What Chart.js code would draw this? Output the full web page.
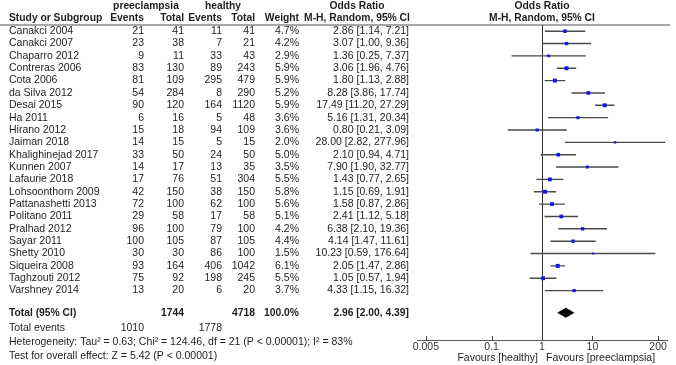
<!DOCTYPE html>
<html><head><meta charset="utf-8">
<script src="https://cdn.jsdelivr.net/npm/chart.js@4.4.1/dist/chart.umd.min.js"></script>
<style>html,body{margin:0;padding:0;background:#fff}#wrap{width:676px;height:365px;position:relative}</style>
</head><body><div id="wrap"><canvas id="c" width="676" height="365"></canvas></div>
<script>
// ---------- data ----------
const studies = ['Canakci 2004','Canakci 2007','Chaparro 2012','Contreras 2006','Cota 2006','da Silva 2012','Desai 2015','Ha 2011','Hirano 2012','Jaiman 2018','Khalighinejad 2017','Kunnen 2007','Lafaurie 2018','Lohsoonthorn 2009','Pattanashetti 2013','Politano 2011','Pralhad 2012','Sayar 2011','Shetty 2010','Siqueira 2008','Taghzouti 2012','Varshney 2014'];
const preEvents = [21,23,9,83,81,54,90,6,15,14,33,14,17,42,72,29,96,100,30,93,75,13];
const preTotal = [41,38,11,130,109,284,120,16,18,15,50,17,76,150,100,58,100,105,30,164,92,20];
const healthyEvents = [11,7,33,89,295,8,164,5,94,5,24,13,51,38,62,17,79,87,86,406,198,6];
const healthyTotal = [41,21,43,243,479,290,1120,48,109,15,50,35,304,150,100,58,100,105,100,1042,245,20];
const weights = [4.7,4.2,2.9,5.9,5.9,5.2,5.9,3.6,3.6,2.0,5.0,3.5,5.5,5.8,5.6,5.1,4.2,4.4,1.5,6.1,5.5,3.7];
const oddsRatio = [2.86,3.07,1.36,3.06,1.80,8.28,17.49,5.16,0.80,28.00,2.10,7.90,1.43,1.15,1.58,2.41,6.38,4.14,10.23,2.05,1.05,4.33];
const ciLower = [1.14,1.00,0.25,1.96,1.13,3.86,11.20,1.31,0.21,2.82,0.94,1.90,0.77,0.69,0.87,1.12,2.10,1.47,0.59,1.47,0.57,1.15];
const ciUpper = [7.21,9.36,7.37,4.76,2.88,17.74,27.29,20.34,3.09,277.96,4.71,32.77,2.65,1.91,2.86,5.18,19.36,11.61,176.64,2.86,1.94,16.32];
const pooledOR = [2.96, 2.00, 4.39];          // estimate, lower, upper
const totalParticipants = [1744, 4718];      // preeclampsia, healthy
const totalEvents = [1010, 1778];
const totalWeight = [100.0];
const axisTicks = [0.005, 0.1, 1, 10, 200];
const groupLabels = ['preeclampsia', 'healthy'];
const favourLabels = ['Favours [healthy]', 'Favours [preeclampsia]'];
const heterogeneityText = 'Heterogeneity: Tau\u00B2 = 0.63; Chi\u00B2 = 124.46, df = 21 (P < 0.00001); I\u00B2 = 83%';
const overallText = 'Test for overall effect: Z = 5.42 (P < 0.00001)';

// ---------- layout (not data) ----------
const REG = '10.5px "Liberation Sans", Arial, sans-serif';
const BOLD = 'bold 10.3px "Liberation Sans", Arial, sans-serif';
const TXT = '#1e1e1e';
const COL = {study:9, preE:144, preT:184, hE:222, hT:255, w:299, or:409, orHead:357};
const ROW = {head1:-2.05, head2:-1.05, total:22.8, events:24.0, het:25.15, test:26.3, favours:26.45};

const fmt = v => v.toFixed(2);

const tablePlugin = {
  id: 'table',
  beforeDatasetsDraw(chart) {
    const {ctx, chartArea, scales:{x, y}} = chart;
    ctx.save();
    // header rule
    ctx.strokeStyle = '#8a8a8a'; ctx.lineWidth = 1.5;
    ctx.beginPath(); ctx.moveTo(0, chartArea.top); ctx.lineTo(670, chartArea.top); ctx.stroke();
    // line of no effect
    const x1 = Math.round(x.getPixelForValue(1)) + 0.5;
    ctx.strokeStyle = '#333'; ctx.lineWidth = 1;
    ctx.beginPath(); ctx.moveTo(x1, chartArea.top); ctx.lineTo(x1, chartArea.bottom); ctx.stroke();
    ctx.restore();
  },
  afterDatasetsDraw(chart) {
    const {ctx, chartArea, scales:{x, y}} = chart;
    const Y = v => y.getPixelForValue(v);
    ctx.save();
    // pooled diamond
    const yc = Y(ROW.total);
    ctx.fillStyle = '#000';
    ctx.beginPath();
    ctx.moveTo(x.getPixelForValue(pooledOR[1]), yc);
    ctx.lineTo(x.getPixelForValue(pooledOR[0]), yc - 5);
    ctx.lineTo(x.getPixelForValue(pooledOR[2]), yc);
    ctx.lineTo(x.getPixelForValue(pooledOR[0]), yc + 5);
    ctx.closePath(); ctx.fill();
    // axis tick marks
    ctx.strokeStyle = '#444'; ctx.lineWidth = 1;
    axisTicks.forEach(t => {
      const px = Math.round(x.getPixelForValue(t)) + 0.5;
      ctx.beginPath(); ctx.moveTo(px, chartArea.bottom - 4); ctx.lineTo(px, chartArea.bottom + 1); ctx.stroke();
    });
    ctx.restore();
  },
  afterDraw(chart) {
    const {ctx, scales:{x, y}} = chart;
    const Y = v => y.getPixelForValue(v);
    const xc = x.getPixelForValue(1);
    ctx.save();
    ctx.textBaseline = 'middle';
    const t = (s, px, py, align, font) => { ctx.font = font; ctx.textAlign = align; ctx.fillStyle = TXT; ctx.fillText(s, px, py); };
    // headers
    t(groupLabels[0], 146, Y(ROW.head1), 'center', BOLD);
    t(groupLabels[1], 223, Y(ROW.head1), 'center', BOLD);
    t('Odds Ratio', COL.orHead, Y(ROW.head1), 'center', BOLD);
    t('Odds Ratio', xc, Y(ROW.head1), 'center', BOLD);
    t('Study or Subgroup', COL.study, Y(ROW.head2), 'left', BOLD);
    t('Events', COL.preE, Y(ROW.head2), 'right', BOLD);
    t('Total', COL.preT, Y(ROW.head2), 'right', BOLD);
    t('Events', COL.hE, Y(ROW.head2), 'right', BOLD);
    t('Total', COL.hT, Y(ROW.head2), 'right', BOLD);
    t('Weight', COL.w, Y(ROW.head2), 'right', BOLD);
    t('M-H, Random, 95% CI', COL.orHead, Y(ROW.head2), 'center', BOLD);
    t('M-H, Random, 95% CI', xc, Y(ROW.head2), 'center', BOLD);
    // study rows
    studies.forEach((s, i) => {
      const py = Y(i);
      t(s, COL.study, py, 'left', REG);
      t(String(preEvents[i]), COL.preE, py, 'right', REG);
      t(String(preTotal[i]), COL.preT, py, 'right', REG);
      t(String(healthyEvents[i]), COL.hE, py, 'right', REG);
      t(String(healthyTotal[i]), COL.hT, py, 'right', REG);
      t(weights[i].toFixed(1) + '%', COL.w, py, 'right', REG);
      t(fmt(oddsRatio[i]) + ' [' + fmt(ciLower[i]) + ', ' + fmt(ciUpper[i]) + ']', COL.or, py, 'right', REG);
    });
    // totals
    const pt = Y(ROW.total);
    t('Total (95% CI)', COL.study, pt, 'left', BOLD);
    t(String(totalParticipants[0]), COL.preT, pt, 'right', BOLD);
    t(String(totalParticipants[1]), COL.hT, pt, 'right', BOLD);
    t(totalWeight[0].toFixed(1) + '%', COL.w, pt, 'right', BOLD);
    t(fmt(pooledOR[0]) + ' [' + fmt(pooledOR[1]) + ', ' + fmt(pooledOR[2]) + ']', COL.or, pt, 'right', BOLD);
    const pe = Y(ROW.events);
    t('Total events', COL.study, pe, 'left', REG);
    t(String(totalEvents[0]), COL.preE, pe, 'right', REG);
    t(String(totalEvents[1]), COL.hE, pe, 'right', REG);
    t(heterogeneityText, COL.study, Y(ROW.het), 'left', REG);
    t(overallText, COL.study, Y(ROW.test), 'left', REG);
    // favours labels
    t(favourLabels[0], xc - 4, Y(ROW.favours), 'right', REG);
    t(favourLabels[1], xc + 4, Y(ROW.favours), 'left', REG);
    ctx.restore();
  }
};

const ciData = [];
studies.forEach((s, i) => { ciData.push({x: ciLower[i], y: i}, {x: ciUpper[i], y: i}, {x: null, y: null}); });

new Chart(document.getElementById('c'), {
  type: 'scatter',
  data: {
    datasets: [
      {
        label: 'Odds ratio',
        data: oddsRatio.map((v, i) => ({x: v, y: i})),
        pointStyle: 'rect',
        backgroundColor: '#1414f0',
        borderWidth: 0,
        pointRadius: c => 1.15 * Math.sqrt(weights[c.dataIndex] || 1),
        pointHoverRadius: c => 1.15 * Math.sqrt(weights[c.dataIndex] || 1),
        order: 0
      },
      {
        label: '95% CI',
        data: ciData,
        showLine: true,
        spanGaps: false,
        borderColor: '#4a4a4a',
        borderWidth: 1.4,
        pointRadius: 0,
        pointHoverRadius: 0,
        order: 1
      }
    ]
  },
  options: {
    responsive: false,
    animation: false,
    events: [],
    devicePixelRatio: 1,
    layout: {padding: {left: 417, right: 9, top: 25, bottom: 0}},
    plugins: {legend: {display: false}, tooltip: {enabled: false}},
    scales: {
      x: {
        type: 'logarithmic',
        min: 1 / 300,
        max: 300,
        afterBuildTicks: s => { s.ticks = axisTicks.map(v => ({value: v})); },
        afterFit: s => { s.height = 25; },
        ticks: {
          callback: v => String(v),
          font: {family: '"Liberation Sans", Arial, sans-serif', size: 10.5},
          color: '#333',
          padding: 1,
          autoSkip: false,
          maxRotation: 0
        },
        grid: {display: false, drawTicks: false},
        border: {display: true, color: '#555', width: 1}
      },
      y: {
        type: 'linear',
        display: false,
        reverse: true,
        min: -0.5,
        max: 25
      }
    }
  },
  plugins: [tablePlugin]
});
</script>
</body></html>
